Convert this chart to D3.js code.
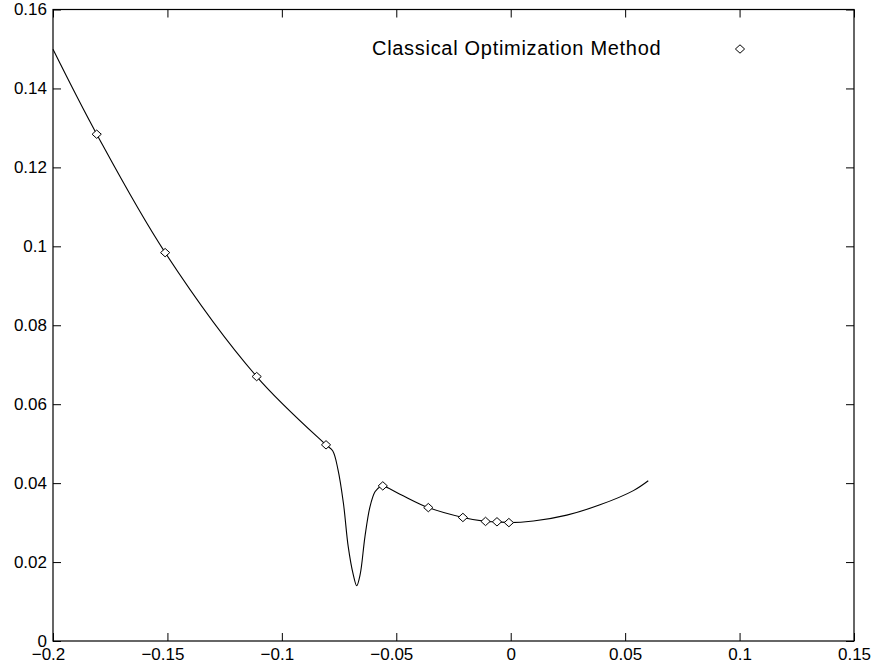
<!DOCTYPE html>
<html>
<head>
<meta charset="utf-8">
<script src="https://cdn.jsdelivr.net/npm/d3@7"></script>
<style>
  html, body { margin: 0; padding: 0; background: #fff; }
  svg { display: block; font-family: "Liberation Sans", Arial, Helvetica, sans-serif; }
</style>
</head>
<body>
<svg id="chart" width="874" height="671"></svg>
<script>
// ---- data ----
const xTicks = [-0.2, -0.15, -0.1, -0.05, 0, 0.05, 0.1, 0.15];
const yTicks = [0, 0.02, 0.04, 0.06, 0.08, 0.1, 0.12, 0.14, 0.16];

// continuous curve
const curveX = [-0.2, -0.1809, -0.151, -0.111, -0.0807, -0.0778, -0.0755, -0.0731, -0.071, -0.0688, -0.0673, -0.0658, -0.0637, -0.0615, -0.0593, -0.0571, -0.0559, -0.0484, -0.036, -0.0209, -0.011, -0.006, -0.0008, 0.0099, 0.0245, 0.039, 0.0536, 0.0601];
const curveY = [0.1499, 0.1284, 0.0984, 0.0670, 0.0497, 0.0482, 0.0435, 0.0349, 0.0239, 0.0168, 0.0140, 0.0168, 0.0264, 0.0340, 0.0378, 0.0391, 0.0393, 0.0372, 0.0338, 0.0313, 0.0303, 0.0302, 0.0300, 0.0304, 0.0319, 0.0345, 0.0381, 0.0406];

// Classical Optimization Method iterates (diamonds)
const methodX = [-0.1809, -0.151, -0.111, -0.0807, -0.0559, -0.036, -0.0209, -0.011, -0.006, -0.0008];
const methodY = [0.1284, 0.0984, 0.0670, 0.0497, 0.0393, 0.0338, 0.0313, 0.0303, 0.0302, 0.0300];

const legendLabel = "Classical Optimization Method";

// ---- layout ----
const W = 874, H = 671;
const L = 53, R = 854, T = 9.5, B = 641;

const svg = d3.select("#chart");
const x = d3.scaleLinear().domain([-0.2, 0.15]).range([L, R]);
const y = d3.scaleLinear().domain([0, 0.16]).range([B, T]);

const fmt = v => (v < 0 ? "\u2212" : "") + d3.format("")(Math.abs(+v.toFixed(3)));

svg.append("rect").attr("width", W).attr("height", H).attr("fill", "#fff");

// curve
const curveData = curveX.map((v, i) => [v, curveY[i]]);
svg.append("path")
  .datum(curveData)
  .attr("fill", "none")
  .attr("stroke", "#000")
  .attr("stroke-width", 1.1)
  .attr("d", d3.line().x(d => x(d[0])).y(d => y(d[1])).curve(d3.curveCatmullRom.alpha(0.5)));

// diamonds
const diamond = "M0,-4.2L4.6,0L0,4.2L-4.6,0Z";
svg.append("g").selectAll("path")
  .data(methodX.map((v, i) => [v, methodY[i]]))
  .join("path")
  .attr("d", diamond)
  .attr("transform", d => `translate(${x(d[0])},${y(d[1])})`)
  .attr("fill", "#fff")
  .attr("stroke", "#000")
  .attr("stroke-width", 1);

// axes
const axisStyle = g => {
  g.select(".domain").remove();
  g.selectAll(".tick line").attr("stroke", "#000").attr("stroke-width", 1);
  g.selectAll(".tick text").attr("fill", "#000").style("font-size", "17px")
    .style("font-family", "'Liberation Sans', Arial, Helvetica, sans-serif");
};

const gx = svg.append("g").attr("transform", `translate(0,${B})`)
  .call(d3.axisBottom(x).tickValues(xTicks).tickSizeInner(-8).tickSizeOuter(0).tickPadding(7).tickFormat(fmt))
  .call(axisStyle);
gx.selectAll(".tick text").attr("dx", d => d < 0 ? -5 : 0);

svg.append("g").attr("transform", `translate(0,${T})`)
  .call(d3.axisTop(x).tickValues(xTicks).tickSizeInner(-8).tickSizeOuter(0).tickFormat(""))
  .call(axisStyle);

svg.append("g").attr("transform", `translate(${L},0)`)
  .call(d3.axisLeft(y).tickValues(yTicks).tickSizeInner(-8).tickSizeOuter(0).tickPadding(6).tickFormat(fmt))
  .call(axisStyle);

svg.append("g").attr("transform", `translate(${R},0)`)
  .call(d3.axisRight(y).tickValues(yTicks).tickSizeInner(-8).tickSizeOuter(0).tickFormat(""))
  .call(axisStyle);

// frame
svg.append("rect")
  .attr("x", L).attr("y", T).attr("width", R - L).attr("height", B - T)
  .attr("fill", "none").attr("stroke", "#000").attr("stroke-width", 1.2);

// legend
svg.append("text")
  .attr("x", 372).attr("y", 55)
  .style("font-size", "20px")
  .style("letter-spacing", "0.7px")
  .attr("fill", "#000")
  .text(legendLabel);
svg.append("path")
  .attr("d", diamond)
  .attr("transform", `translate(740,49)`)
  .attr("fill", "#fff").attr("stroke", "#000").attr("stroke-width", 1);
</script>
</body>
</html>
